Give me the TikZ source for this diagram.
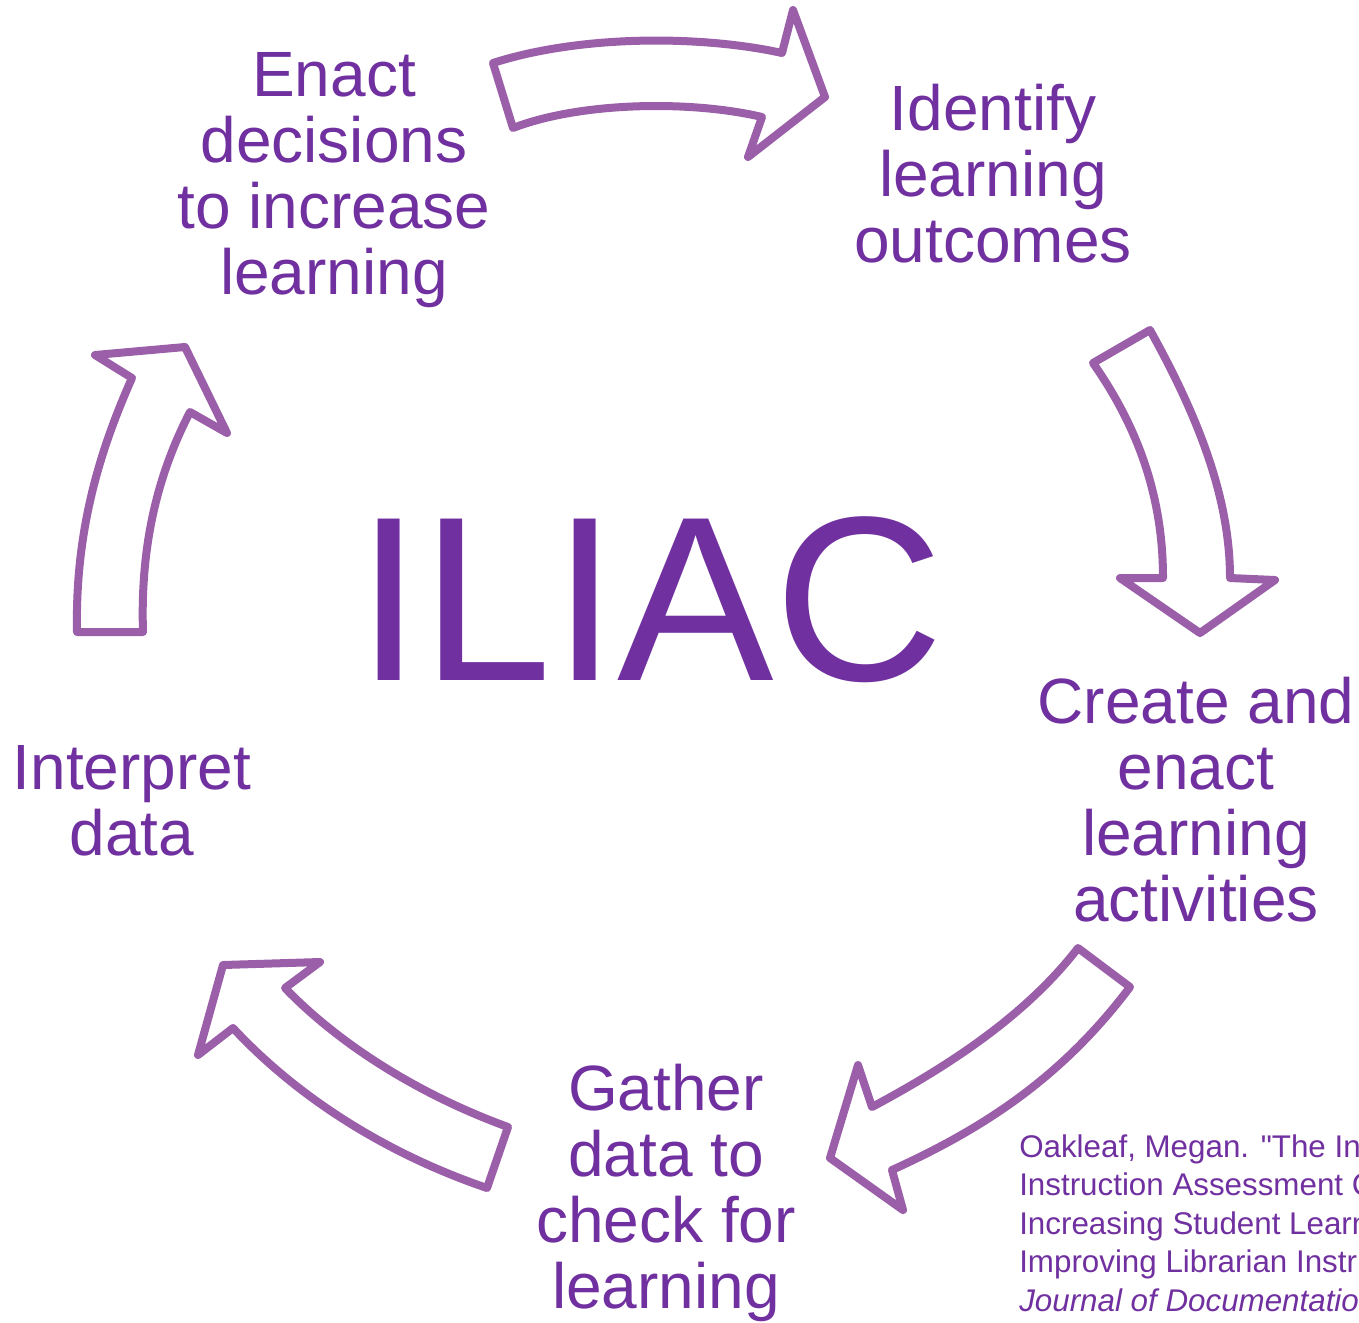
\documentclass[tikz,border=0pt]{standalone}
\usepackage{fontspec}
\setmainfont{Liberation Sans}
\newfontfamily\citefont{Liberation Sans}[Ligatures=TeXOff]
\usetikzlibrary{shadows}
\definecolor{txtpurple}{HTML}{7030A0}
\definecolor{arrpurple}{HTML}{9B5EA8}
\tikzset{
  bigarrow/.style={draw=arrpurple, fill=white, line width=6pt, line join=round,
    drop shadow={opacity=0.18, shadow xshift=2pt, shadow yshift=-2pt}},
  label/.style={text=txtpurple, align=center, inner sep=0pt,
    font=\fontsize{48}{49.5}\selectfont},
}
\begin{document}
\begin{tikzpicture}[x=0.75pt, y=-0.75pt]
\clip (0,0) rectangle (1359,1322);
\fill[white] (0,0) rectangle (1359,1322);

% top arrow
\draw[bigarrow] (493,63) .. controls (580,35) and (700,35) .. (782,53) -- (793,10) -- (825,97) -- (748,157) -- (762,117)
  .. controls (690,100) and (580,102) .. (513,128) -- cycle;
% right arrow
\draw[bigarrow] (1093,363) -- (1150,330) .. controls (1200,420) and (1230,500) .. (1230,578) -- (1275,580) -- (1200,633) -- (1120,578) -- (1163,578)
  .. controls (1163,500) and (1140,430) .. cycle;
% bottom-right arrow
\draw[bigarrow] (1078,948) -- (1130,987) .. controls (1060,1080) and (980,1130) .. (892,1170) -- (903,1210) -- (830,1158) -- (858,1065) -- (872,1107)
  .. controls (960,1060) and (1030,1010) .. cycle;
% bottom-left arrow
\draw[bigarrow] (508,1127) -- (487,1188) .. controls (390,1155) and (300,1100) .. (233,1028) -- (198,1055) -- (223,965) -- (320,962) -- (285,988)
  .. controls (340,1045) and (420,1095) .. cycle;
% left arrow
\draw[bigarrow] (77,632) -- (143,632) .. controls (140,540) and (160,470) .. (190,412) -- (227,433) -- (185,347) -- (95,355) -- (132,378)
  .. controls (100,450) and (75,530) .. cycle;

\node[label] (enact) at (334,180) {Enact\\decisions\\to increase\\learning};
\node[label] (identify) at (993,174) {Identify\\learning\\outcomes};
\node[label] (create) at (1196,800) {Create and\\enact\\learning\\activities};
\node[label] (gather) at (666,1193) {Gather\\data to\\check for\\learning};
\node[label] (interpret) at (132,801) {Interpret\\data};
\node[text=txtpurple, inner sep=0pt, font=\fontsize{176}{180}\selectfont] (iliac) at (650,600) {ILIAC};

\node[text=txtpurple, inner sep=0pt, align=left, anchor=base west,
  font=\citefont\fontsize{23.5}{28.8}\selectfont] (cite) at (1019,1311)
  {Oakleaf, Megan. "The Information Literacy\\Instruction Assessment Cycle: A Guide for\\Increasing Student Learning and\\Improving Librarian Instructional Skills."\\\textit{Journal of Documentation}};
\end{tikzpicture}
\end{document}
